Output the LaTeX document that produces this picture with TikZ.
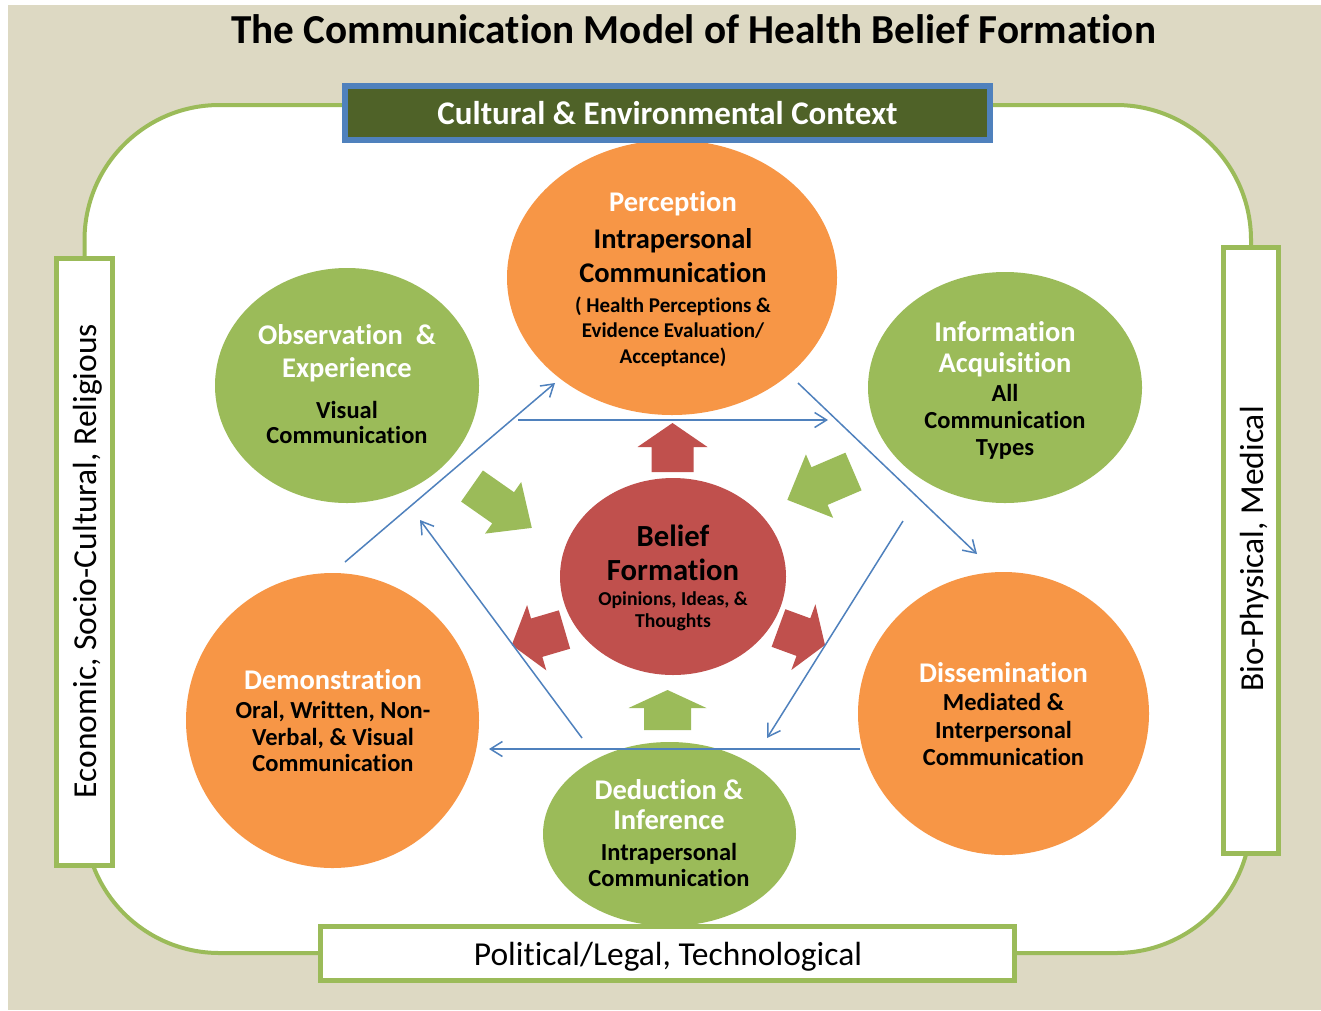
\documentclass[tikz,border=0pt]{standalone}
\usepackage{fontspec}
\setmainfont{Carlito}[Ligatures=NoCommon]
\usetikzlibrary{shapes.geometric,arrows.meta}

\definecolor{bgtan}{HTML}{DDD9C3}
\definecolor{ogreen}{HTML}{9BBB59}
\definecolor{oorange}{HTML}{F79646}
\definecolor{ored}{HTML}{C0504D}
\definecolor{oblue}{HTML}{4F81BD}
\definecolor{olive}{HTML}{4F6228}

% block arrow: tail point, angle, length, shaft width, head width, head length, colour
\newcommand\blockarrow[7]{%
  \begin{scope}[shift={(#1)}, rotate=#2]
    \fill[#7] (0,-#4/2) -- (#3-#6,-#4/2) -- (#3-#6,-#5/2) -- (#3,0)
      -- (#3-#6,#5/2) -- (#3-#6,#4/2) -- (0,#4/2) -- cycle;
  \end{scope}}

\begin{document}
\begin{tikzpicture}[x=1pt, y=-1pt,
  bubble/.style={ellipse, inner sep=0pt, draw=none},
  sidebox/.style={draw=ogreen, line width=5pt, fill=white, inner sep=0pt},
  txthead/.style={anchor=base, inner sep=0pt, text=white, font=\fontsize{28.5}{34}\selectfont\bfseries},
  txtbody/.style={anchor=base, inner sep=0pt, text=black, font=\fontsize{24.5}{29}\selectfont\bfseries},
  txtsmall/.style={anchor=base, inner sep=0pt, text=black, font=\fontsize{19}{23}\selectfont\bfseries},
  txtside/.style={anchor=base, inner sep=0pt, text=black, font=\fontsize{33.5}{40}\selectfont},
  conn/.style={draw=oblue, line width=1.5pt, -{Straight Barb[length=12pt,width=15pt]}}
]
\useasboundingbox (0,0) rectangle (1321,1010);
\fill[white] (0,0) rectangle (1321,1010);
\fill[bgtan] (8,5) rectangle (1321,1010);

% title
\node[anchor=base, inner sep=0pt, font=\fontsize{41.2}{48}\selectfont\bfseries] (title)
  at (693.5,43) {The Communication Model of Health Belief Formation};

% rounded context frame
\draw[ogreen, line width=4pt, fill=white, rounded corners=135pt] (84.5,105) rectangle (1251,953);

% side boxes
\node[sidebox, minimum width=56pt, minimum height=607pt] (leftbox) at (84.5,562) {};
\node[sidebox, minimum width=55pt, minimum height=606pt] (rightbox) at (1251,550.5) {};
\node[txtside, rotate=90] (econ) at (96,561) {Economic, Socio-Cultural, Religious};
\node[txtside, rotate=90] (bio) at (1263,549) {Bio-Physical, Medical};

% bubbles
\node[bubble, fill=oorange, minimum width=330pt, minimum height=275pt] (perc) at (672,277.5) {};
\node[bubble, fill=ogreen, minimum width=264pt, minimum height=235pt] (obs) at (347,385.5) {};
\node[bubble, fill=ogreen, minimum width=274pt, minimum height=231pt] (info) at (1005,387.5) {};
\node[bubble, fill=oorange, minimum width=293pt, minimum height=295pt] (demo) at (332.5,720.5) {};
\node[bubble, fill=oorange, minimum width=291pt, minimum height=283pt] (diss) at (1003.5,713.5) {};
\node[bubble, fill=ogreen, minimum width=253pt, minimum height=184pt] (dedu) at (669.5,834) {};
\node[bubble, fill=ored, minimum width=226pt, minimum height=197pt] (belief) at (673,576.5) {};

% block arrows around the centre
\blockarrow{672.5,472}{90}{49}{42}{70}{24}{ored}
\blockarrow{667.5,730}{90}{40}{47}{78}{18}{ogreen}
\blockarrow{472,486}{-35}{73}{38}{63}{35}{ogreen}
\blockarrow{853.5,471.5}{203.2}{72}{41}{69}{35}{ogreen}
\blockarrow{564.5,629.5}{196.4}{55}{40}{68}{26}{ored}
\blockarrow{778.5,628}{-20.1}{49.5}{40}{70}{23}{ored}

% texts in the bubbles
\node[txthead] (perc1) at (673,211) {Perception};
\node[txthead, text=black] (perc2) at (673,248) {Intrapersonal};
\node[txthead, text=black] (perc3) at (673,282) {Communication};
\node[txtsmall, font=\fontsize{21}{25}\selectfont\bfseries] (perc4) at (673,312) {( Health Perceptions \&};
\node[txtsmall, font=\fontsize{21}{25}\selectfont\bfseries] (perc5) at (673,337) {Evidence Evaluation/};
\node[txtsmall, font=\fontsize{21}{25}\selectfont\bfseries] (perc6) at (673,363) {Acceptance)};

\node[txthead] (obs1) at (347,344) {Observation~~\&};
\node[txthead] (obs2) at (347,377) {Experience};
\node[txtbody] (obs3) at (347,418) {Visual};
\node[txtbody] (obs4) at (347,443) {Communication};

\node[txthead] (info1) at (1005,341) {Information};
\node[txthead] (info2) at (1005,372) {Acquisition};
\node[txtbody] (info3) at (1005,401) {All};
\node[txtbody] (info4) at (1005,428) {Communication};
\node[txtbody] (info5) at (1005,455) {Types};

\node[txthead] (demo1) at (333,689) {Demonstration};
\node[txtbody] (demo2) at (333,718) {Oral, Written, Non-};
\node[txtbody] (demo3) at (333,745) {Verbal, \& Visual};
\node[txtbody] (demo4) at (333,771) {Communication};

\node[txthead] (diss1) at (1003.5,682) {Dissemination};
\node[txtbody] (diss2) at (1003.5,710) {Mediated \&};
\node[txtbody] (diss3) at (1003.5,738) {Interpersonal};
\node[txtbody] (diss4) at (1003.5,765) {Communication};

\node[txthead] (dedu1) at (669,799) {Deduction \&};
\node[txthead] (dedu2) at (669,829) {Inference};
\node[txtbody] (dedu3) at (669,860) {Intrapersonal};
\node[txtbody] (dedu4) at (669,886) {Communication};

\node[anchor=base, inner sep=0pt, font=\fontsize{30.7}{37}\selectfont\bfseries] (bel1) at (673,546) {Belief};
\node[anchor=base, inner sep=0pt, font=\fontsize{30.7}{37}\selectfont\bfseries] (bel2) at (673,580) {Formation};
\node[txtsmall, font=\fontsize{19.7}{24}\selectfont\bfseries] (bel3) at (673,605) {Opinions, Ideas, \&};
\node[txtsmall, font=\fontsize{19.7}{24}\selectfont\bfseries] (bel4) at (673,627) {Thoughts};

% cycle connectors
\coordinate (a1s) at (345,562);  \coordinate (a1e) at (555,383);
\coordinate (a2s) at (518,420);  \coordinate (a2e) at (828,420);
\coordinate (a3s) at (798,383);  \coordinate (a3e) at (977,554);
\coordinate (a4s) at (903,521);  \coordinate (a4e) at (767,738);
\coordinate (a5s) at (860,749);  \coordinate (a5e) at (489,749);
\coordinate (a6s) at (582,738);  \coordinate (a6e) at (420,520);
\draw[conn] (a1s) -- (a1e);
\draw[conn] (a2s) -- (a2e);
\draw[conn] (a3s) -- (a3e);
\draw[conn] (a4s) -- (a4e);
\draw[conn] (a5s) -- (a5e);
\draw[conn] (a6s) -- (a6e);

% top and bottom context boxes
\node[draw=oblue, line width=6pt, fill=olive, minimum width=645pt, minimum height=54pt, inner sep=0pt] (ctx) at (667.5,113) {};
\node[anchor=base, inner sep=0pt, text=white, font=\fontsize{33}{40}\selectfont\bfseries] (ctxtext) at (667.5,124) {Cultural \& Environmental Context};
\node[sidebox, minimum width=694pt, minimum height=54pt] (botbox) at (667.5,953.5) {};
\node[txtside] (pol) at (668,965) {Political/Legal, Technological};
\end{tikzpicture}
\end{document}
